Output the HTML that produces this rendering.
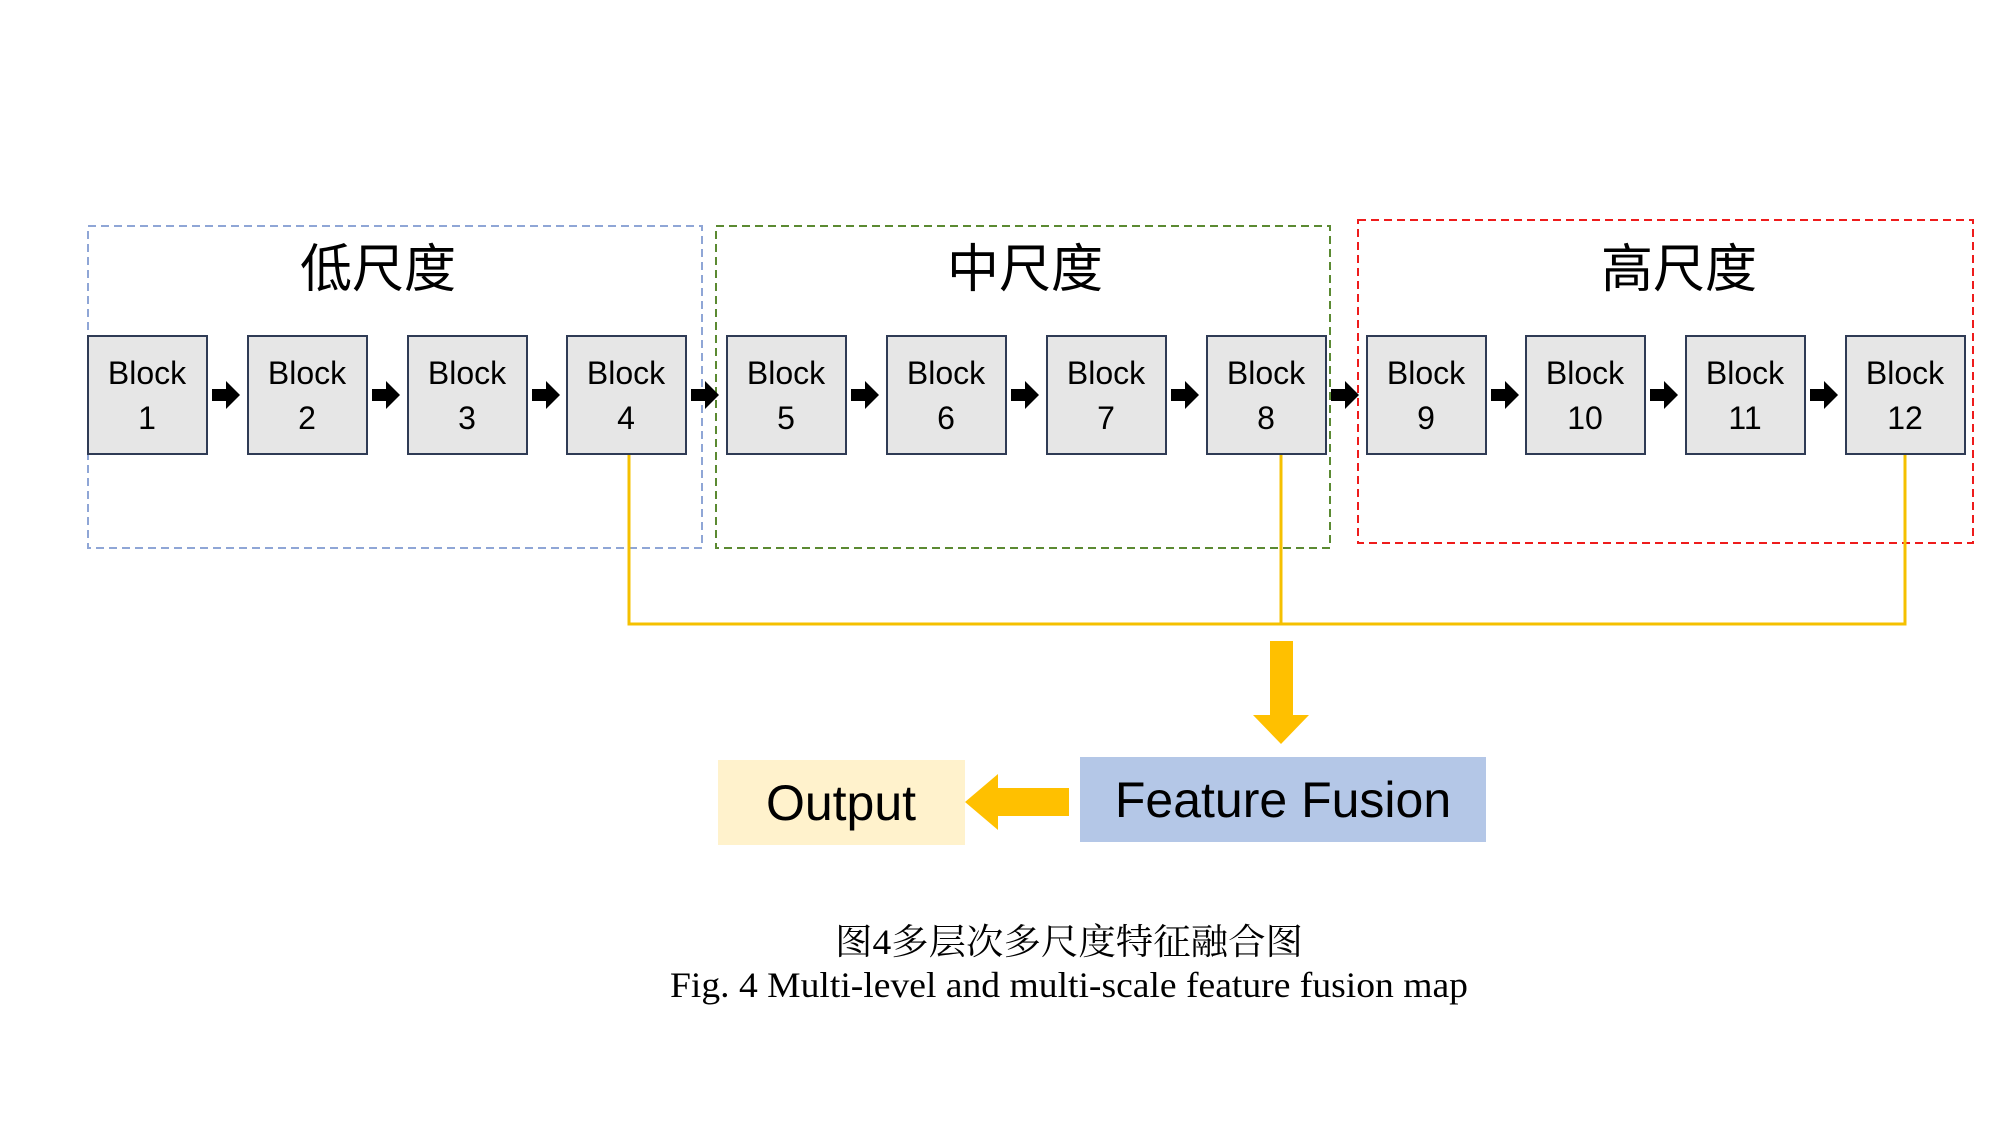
<!DOCTYPE html>
<html><head><meta charset="utf-8"><style>html,body{margin:0;padding:0;background:#fff}svg{display:block}</style></head>
<body>
<svg width="1999" height="1124" viewBox="0 0 1999 1124" xmlns="http://www.w3.org/2000/svg">
<defs>
<g id="ar"><polygon points="0,-6 14,-6 14,-14 28,0 14,14 14,6 0,6" fill="#000"/></g>
</defs>
<rect width="1999" height="1124" fill="#fff"/>
<rect x="88" y="226" width="614" height="322" fill="none" stroke="#8fa6d6" stroke-width="2" stroke-dasharray="8,5"/>
<rect x="716" y="226" width="614" height="322" fill="none" stroke="#5b8a32" stroke-width="2" stroke-dasharray="8,5"/>
<rect x="1358" y="220" width="615" height="323" fill="none" stroke="#ee1c1c" stroke-width="2" stroke-dasharray="8,5"/>
<g font-family="'Liberation Sans','Noto Sans CJK SC',sans-serif" font-size="52" text-anchor="middle" fill="#000">
<text x="378" y="287">低尺度</text>
<text x="1025" y="287">中尺度</text>
<text x="1679" y="287">高尺度</text>
</g>
<g stroke="#f5c000" stroke-width="3" fill="none">
<polyline points="629,454 629,624 1905,624 1905,454"/>
<line x1="1281" y1="454" x2="1281" y2="624"/>
</g>
<g font-family="'Liberation Sans',sans-serif" font-size="32" text-anchor="middle" fill="#000">
<rect x="88" y="336" width="119" height="118" fill="#e6e6e6" stroke="#2f3b55" stroke-width="2"/><text x="147" y="384">Block</text><text x="147" y="429">1</text>
<rect x="248" y="336" width="119" height="118" fill="#e6e6e6" stroke="#2f3b55" stroke-width="2"/><text x="307" y="384">Block</text><text x="307" y="429">2</text>
<rect x="408" y="336" width="119" height="118" fill="#e6e6e6" stroke="#2f3b55" stroke-width="2"/><text x="467" y="384">Block</text><text x="467" y="429">3</text>
<rect x="567" y="336" width="119" height="118" fill="#e6e6e6" stroke="#2f3b55" stroke-width="2"/><text x="626" y="384">Block</text><text x="626" y="429">4</text>
<rect x="727" y="336" width="119" height="118" fill="#e6e6e6" stroke="#2f3b55" stroke-width="2"/><text x="786" y="384">Block</text><text x="786" y="429">5</text>
<rect x="887" y="336" width="119" height="118" fill="#e6e6e6" stroke="#2f3b55" stroke-width="2"/><text x="946" y="384">Block</text><text x="946" y="429">6</text>
<rect x="1047" y="336" width="119" height="118" fill="#e6e6e6" stroke="#2f3b55" stroke-width="2"/><text x="1106" y="384">Block</text><text x="1106" y="429">7</text>
<rect x="1207" y="336" width="119" height="118" fill="#e6e6e6" stroke="#2f3b55" stroke-width="2"/><text x="1266" y="384">Block</text><text x="1266" y="429">8</text>
<rect x="1367" y="336" width="119" height="118" fill="#e6e6e6" stroke="#2f3b55" stroke-width="2"/><text x="1426" y="384">Block</text><text x="1426" y="429">9</text>
<rect x="1526" y="336" width="119" height="118" fill="#e6e6e6" stroke="#2f3b55" stroke-width="2"/><text x="1585" y="384">Block</text><text x="1585" y="429">10</text>
<rect x="1686" y="336" width="119" height="118" fill="#e6e6e6" stroke="#2f3b55" stroke-width="2"/><text x="1745" y="384">Block</text><text x="1745" y="429">11</text>
<rect x="1846" y="336" width="119" height="118" fill="#e6e6e6" stroke="#2f3b55" stroke-width="2"/><text x="1905" y="384">Block</text><text x="1905" y="429">12</text>
</g>
<use href="#ar" x="212" y="395"/><use href="#ar" x="372" y="395"/><use href="#ar" x="532" y="395"/><use href="#ar" x="691" y="395"/>
<use href="#ar" x="851" y="395"/><use href="#ar" x="1011" y="395"/><use href="#ar" x="1171" y="395"/><use href="#ar" x="1331" y="395"/>
<use href="#ar" x="1491" y="395"/><use href="#ar" x="1650" y="395"/><use href="#ar" x="1810" y="395"/>
<polygon points="1270,641 1293,641 1293,715 1309,715 1281,744 1253,715 1270,715" fill="#ffc000"/>
<rect x="1080" y="757" width="406" height="85" fill="#b4c7e7"/>
<rect x="718" y="760" width="247" height="85" fill="#fff2cc"/>
<polygon points="1069,788 998,788 998,774 965,802 998,830 998,816 1069,816" fill="#ffc000"/>
<g font-family="'Liberation Sans',sans-serif" font-size="50" text-anchor="middle" fill="#000">
<text x="1283" y="817">Feature Fusion</text>
<text x="841" y="820">Output</text>
</g>
<text x="1069" y="954" font-family="'Liberation Serif','Noto Serif CJK SC',serif" font-size="36" text-anchor="middle" textLength="468" lengthAdjust="spacingAndGlyphs">图4多层次多尺度特征融合图</text>
<text x="1069" y="997" font-family="'Liberation Serif',serif" font-size="36" text-anchor="middle" textLength="798" lengthAdjust="spacingAndGlyphs">Fig. 4 Multi-level and multi-scale feature fusion map</text>
</svg>
</body></html>
